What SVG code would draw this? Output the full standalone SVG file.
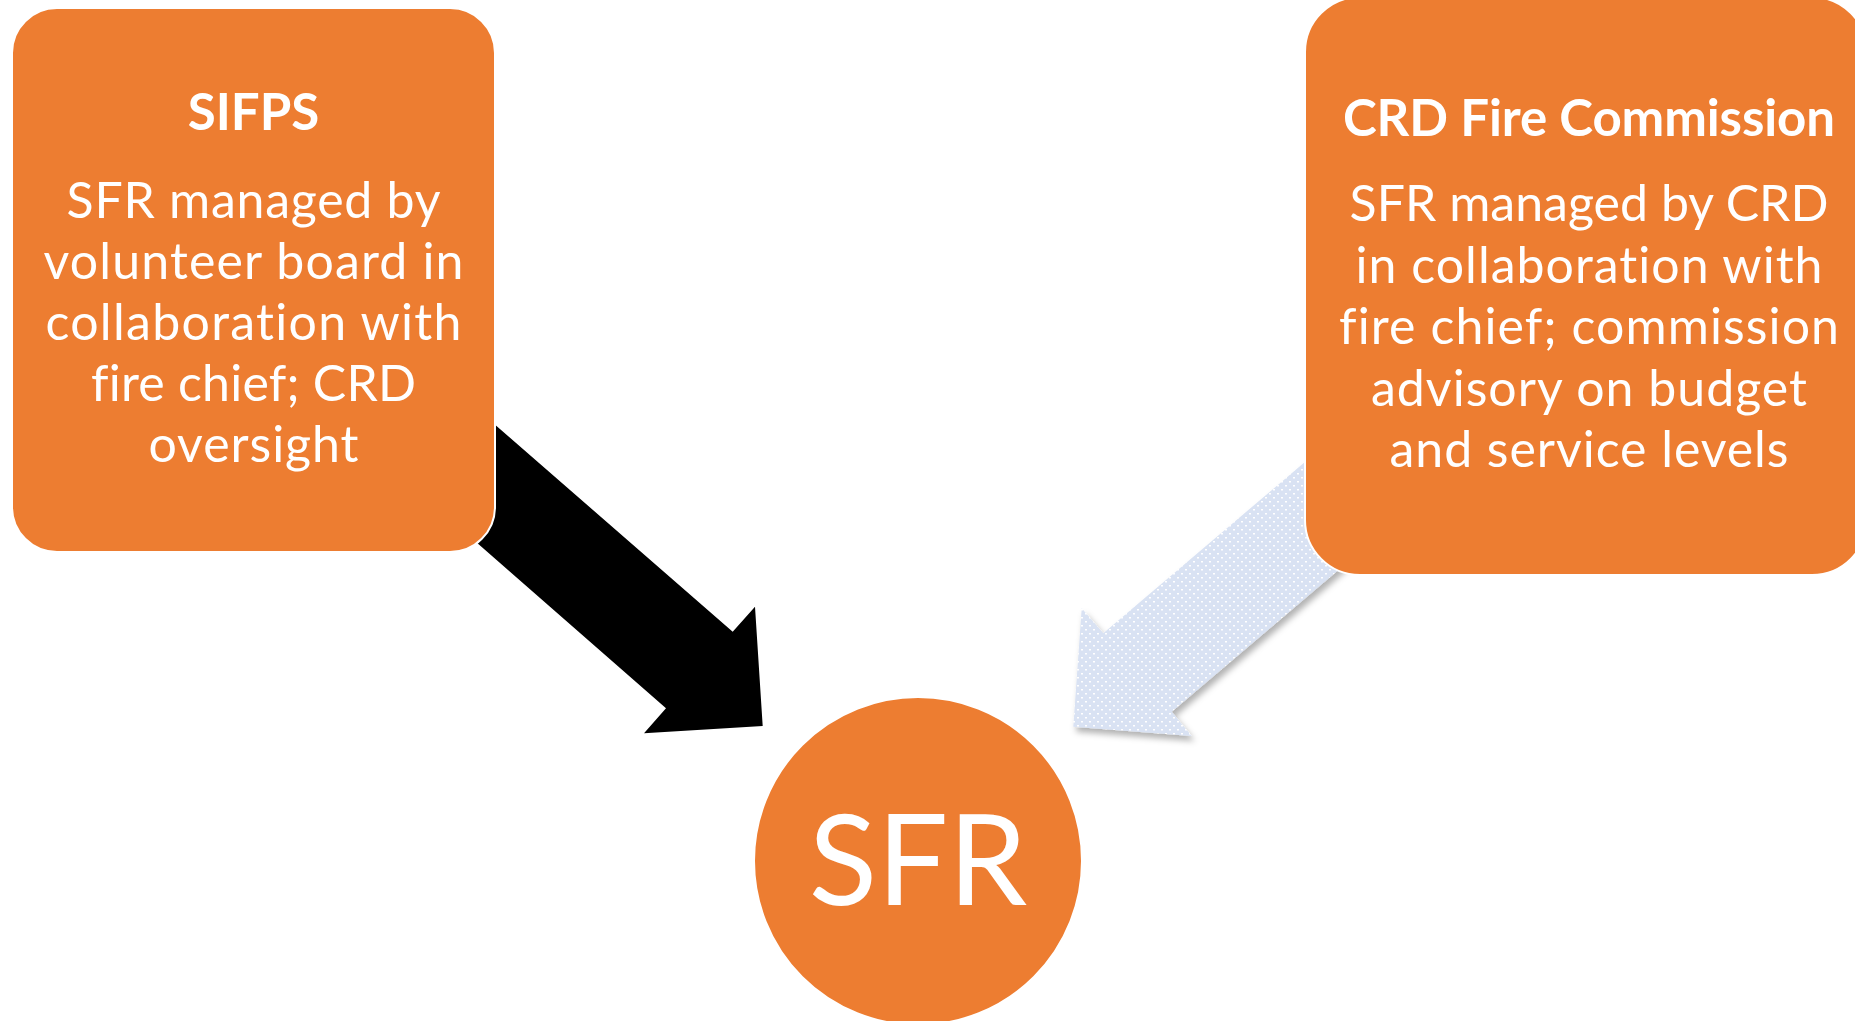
<svg xmlns="http://www.w3.org/2000/svg" width="1855" height="1021" viewBox="0 0 1855 1021">
<defs>
<style>
.box{fill:#ED7D31;stroke:#FFFFFF;stroke-width:2}
.t{font-family:Lato,"Liberation Sans",sans-serif;fill:#FFFFFF;text-anchor:middle;font-variant-ligatures:none;font-feature-settings:"liga" 0,"clig" 0}
.h{font-size:51px;font-weight:bold}
.b{font-size:50px}
.big{font-size:126px}
</style>
<pattern id="dots" width="8" height="8" patternUnits="userSpaceOnUse">
<rect width="8" height="8" fill="#D9E2F3"/>
<rect x="1" y="1" width="2" height="1.5" fill="#FFFFFF"/>
<rect x="5" y="5" width="2" height="1.5" fill="#FFFFFF"/>
</pattern>
<filter id="shadow" x="-10%" y="-10%" width="130%" height="130%">
<feDropShadow dx="3" dy="5" stdDeviation="3" flood-color="#000000" flood-opacity="0.3"/>
</filter>
</defs>
<rect width="1855" height="1021" fill="#FFFFFF"/>
<g id="connectors">
<polygon id="arrow-sifps-sfr" points="421.2,360.4 732.7,631.7 755,606.7 762.7,726 644,733.3 666,708.3 355.3,436.3" fill="#000000"/>
<polygon id="arrow-crd-sfr" points="1379.5,398.5 1103.3,633.3 1081.7,608.3 1073.3,726.7 1191.7,736 1171.7,711.7 1446.9,477.7" fill="url(#dots)" filter="url(#shadow)"/>
</g>
<g id="node-sifps">
<rect class="box" x="12" y="8" width="483" height="544" rx="45" ry="45"/>
<text class="t h" x="253.5" y="130">SIFPS</text>
<text class="t b" x="253.5" y="218" textLength="374">SFR managed by</text>
<text class="t b" x="253.5" y="279" textLength="420">volunteer board in</text>
<text class="t b" x="253.5" y="340" textLength="416">collaboration with</text>
<text class="t b" x="253.5" y="401" textLength="325">fire chief; CRD</text>
<text class="t b" x="253.5" y="462" textLength="210">oversight</text>
</g>
<g id="node-crd">
<rect class="box" x="1305" y="-3" width="562" height="578" rx="55" ry="55"/>
<text class="t h" x="1589" y="136" textLength="492">CRD Fire Commission</text>
<text class="t b" x="1589" y="221" textLength="479">SFR managed by CRD</text>
<text class="t b" x="1589" y="282.5" textLength="467">in collaboration with</text>
<text class="t b" x="1589" y="344" textLength="500">fire chief; commission</text>
<text class="t b" x="1589" y="405.5" textLength="436">advisory on budget</text>
<text class="t b" x="1589" y="467" textLength="399">and service levels</text>
</g>
<g id="node-sfr">
<circle class="box" cx="918" cy="861" r="164"/>
<text class="t big" x="918" y="905">SFR</text>
</g>
</svg>
